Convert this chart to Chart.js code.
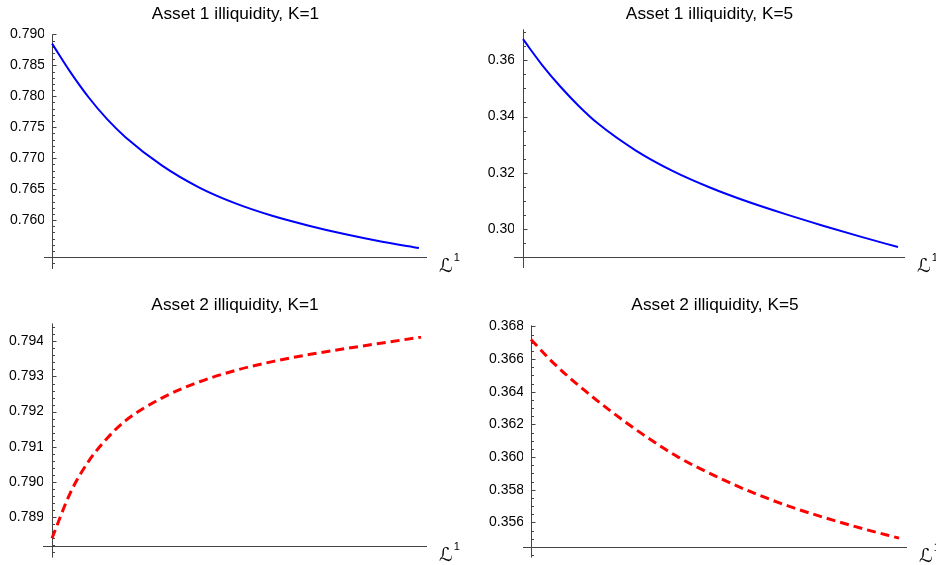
<!DOCTYPE html>
<html>
<head>
<meta charset="utf-8">
<script src="https://cdn.jsdelivr.net/npm/chart.js@4.4.0/dist/chart.umd.min.js"></script>
<style>
  html, body { margin: 0; padding: 0; background: #fff; }
  #wrap { position: relative; width: 936px; height: 565px; }
  .panel { position: absolute; }
</style>
</head>
<body>
<div id="wrap">
  <div class="panel" style="left:0;top:0;width:466px;height:290px"><canvas id="a1k1"></canvas></div>
  <div class="panel" style="left:466px;top:0;width:470px;height:290px"><canvas id="a1k5"></canvas></div>
  <div class="panel" style="left:0;top:290px;width:466px;height:275px"><canvas id="a2k1"></canvas></div>
  <div class="panel" style="left:466px;top:290px;width:470px;height:275px"><canvas id="a2k5"></canvas></div>
</div>
<script>
// positions along the L^1 axis (no tick labels on that axis, 0 = y axis, 1 = curve end)
const tPos = [0, 0.05, 0.1, 0.15, 0.2, 0.3, 0.4, 0.5, 0.6, 0.7, 0.8, 0.9, 1.0];

// illiquidity values
const asset1K1 = [0.7885, 0.7839, 0.7798, 0.7763, 0.7734, 0.7688, 0.7653, 0.7627, 0.7607, 0.7591, 0.7577, 0.7565, 0.7555];
const asset1K5 = [0.3675, 0.3585, 0.3506, 0.3436, 0.3375, 0.3280, 0.3206, 0.3147, 0.3097, 0.3053, 0.3012, 0.2973, 0.2936];
const asset2K1 = [0.7884, 0.7897, 0.7906, 0.79125, 0.79175, 0.7924, 0.79285, 0.79318, 0.79343, 0.79363, 0.7938, 0.79396, 0.79412];
const asset2K5 = [0.3672, 0.3660, 0.36495, 0.3640, 0.3631, 0.36145, 0.3600, 0.35885, 0.35785, 0.3570, 0.35628, 0.35563, 0.35504];

// labelled y ticks
const ticksA1K1 = [0.760, 0.765, 0.770, 0.775, 0.780, 0.785, 0.790];
const ticksA1K5 = [0.30, 0.32, 0.34, 0.36];
const ticksA2K1 = [0.789, 0.790, 0.791, 0.792, 0.793, 0.794];
const ticksA2K5 = [0.356, 0.358, 0.360, 0.362, 0.364, 0.366, 0.368];

Chart.defaults.font.family = '"Liberation Sans", Arial, sans-serif';
Chart.defaults.color = '#000';

// Mathematica-like axes: crossing lines, inward ticks, L^1 label
function axesPlugin(cross, minor, ticks) {
    return {
        id: 'mmaAxes',
        beforeDatasetsDraw(chart) {
            const ctx = chart.ctx, a = chart.chartArea;
            const xs = chart.scales.x, ys = chart.scales.y;
            const ax = Math.round(xs.getPixelForValue(0)) + 0.5;
            const ay = Math.round(ys.getPixelForValue(cross)) + 0.5;
            ctx.save();
            ctx.strokeStyle = '#444';
            ctx.lineWidth = 1;
            ctx.beginPath();
            ctx.moveTo(a.left, ay); ctx.lineTo(a.right, ay);
            ctx.moveTo(ax, a.top); ctx.lineTo(ax, a.bottom);
            const n0 = Math.ceil(ys.min / minor - 1e-6), n1 = Math.floor(ys.max / minor + 1e-6);
            for (let n = n0; n <= n1; n++) {
                const v = n * minor;
                const major = ticks.some(t => Math.abs(t - v) < minor / 10);
                const y = Math.round(ys.getPixelForValue(v)) + 0.5;
                ctx.moveTo(ax, y); ctx.lineTo(ax + (major ? 4 : 2.5), y);
            }
            ctx.stroke();
            ctx.fillStyle = '#000';
            ctx.textAlign = 'left';
            ctx.textBaseline = 'alphabetic';
            ctx.font = '19px "DejaVu Sans"';
            const lx = a.right + 12;
            ctx.fillText('ℒ', lx, ay + 14);
            const w = ctx.measureText('ℒ').width;
            ctx.font = '11px "Liberation Sans"';
            ctx.fillText('1', lx + w + 1, ay + 3);
            ctx.restore();
        }
    };
}

function makePanel(id, title, values, ticks, dec, opt) {
    const red = opt.dashed;
    new Chart(document.getElementById(id), {
        type: 'line',
        data: {
            datasets: [{
                data: tPos.map((t, i) => ({ x: t, y: values[i] })),
                borderColor: red ? '#ff0000' : '#0000ff',
                borderWidth: red ? 3 : 2,
                borderDash: red ? [9, 5] : [],
                pointRadius: 0,
                cubicInterpolationMode: 'monotone',
                fill: false
            }]
        },
        options: {
            animation: false,
            responsive: true,
            maintainAspectRatio: false,
            layout: { autoPadding: false, padding: { left: 0, right: opt.pad.right, top: opt.pad.top, bottom: opt.pad.bottom } },
            plugins: {
                legend: { display: false },
                tooltip: { enabled: false },
                title: {
                    display: true, text: title, color: '#000', fullSize: false,
                    font: { size: 17.3, weight: 'normal' },
                    padding: { top: 0, bottom: opt.titleGap }
                }
            },
            scales: {
                x: { type: 'linear', display: false, min: opt.xMin, max: opt.xMax },
                y: {
                    type: 'linear', min: opt.yMin, max: opt.yMax,
                    grid: { display: false, drawTicks: false },
                    border: { display: false },
                    ticks: { padding: -1, font: { size: 14 }, callback: v => v.toFixed(dec) },
                    afterBuildTicks: s => { s.ticks = ticks.map(v => ({ value: v })); },
                    afterFit: s => { s.width = opt.pad.left; }
                }
            }
        },
        plugins: [axesPlugin(opt.cross, opt.minor, ticks)]
    });
}

makePanel('a1k1', 'Asset 1 illiquidity, K=1', asset1K1, ticksA1K1, 3, {
    pad: { left: 44, right: 39, top: 3.8, bottom: 21 }, titleGap: 9.8,
    xMin: -0.022, xMax: 1.022, yMin: 0.7521, yMax: 0.790, cross: 0.754, minor: 0.001
});
makePanel('a1k5', 'Asset 1 illiquidity, K=5', asset1K5, ticksA1K5, 2, {
    pad: { left: 48, right: 31, top: 3.8, bottom: 22 }, titleGap: 4.8,
    xMin: -0.024, xMax: 1.0187, yMin: 0.28615, yMax: 0.3710, cross: 0.290, minor: 0.005
});
makePanel('a2k1', 'Asset 2 illiquidity, K=1', asset2K1, ticksA2K1, 3, {
    pad: { left: 43, right: 39, top: 4.8, bottom: 5 }, titleGap: 7.8, dashed: true,
    xMin: -0.0244, xMax: 1.016, yMin: 0.78785, yMax: 0.79451, cross: 0.788185, minor: 0.0002
});
makePanel('a2k5', 'Asset 2 illiquidity, K=5', asset2K5, ticksA2K5, 3, {
    pad: { left: 57, right: 29, top: 4.8, bottom: 2 }, titleGap: 9.8, dashed: true,
    xMin: -0.0217, xMax: 1.0217, yMin: 0.35385, yMax: 0.36806, cross: 0.35451, minor: 0.0005
});
</script>
</body>
</html>
